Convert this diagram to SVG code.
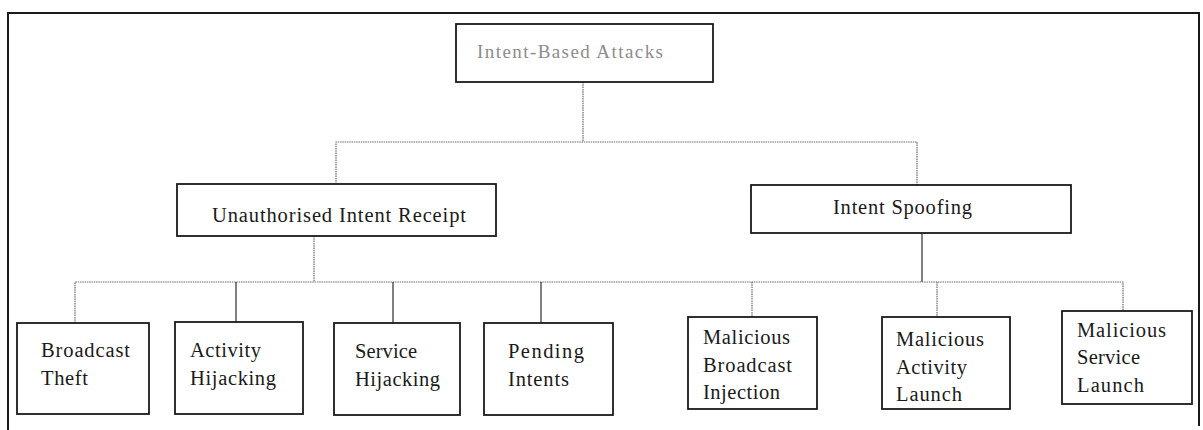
<svg xmlns="http://www.w3.org/2000/svg" width="1203" height="430" viewBox="0 0 1203 430">
  <style>
    .frame { fill: none; stroke: #1a1a1a; stroke-width: 2; }
    .box { fill: #ffffff; stroke: #1a1a1a; stroke-width: 1.8; }
    .link { fill: none; stroke: #6a6a6a; stroke-width: 1.2; stroke-dasharray: 1.5 0.8; }
    .link-solid { fill: none; stroke: #2a2a2a; stroke-width: 1.2; }
    .lbl { font-family: "Liberation Serif", "Times New Roman", serif; font-size: 20.5px; fill: #1a1a1a; }
    .root-lbl { font-family: "Liberation Serif", "Times New Roman", serif; font-size: 19px; fill: #8c8c8c; }
  </style>

  <rect width="1203" height="430" fill="#ffffff"/>

  <!-- outer frame: open at the bottom -->
  <path class="frame" d="M8,430 V13 H1199 V426"/>

  <!-- connectors -->
  <g id="connectors">
    <path class="link" d="M583,82 V142"/>
    <path class="link" d="M336,184 V142 H917 V185"/>
    <path class="link" d="M314,236 V282"/>
    <path class="link-solid" d="M922,233 V282"/>
    <path class="link" d="M75,323 V282 H1123 V311"/>
    <path class="link-solid" d="M236,282 V322"/>
    <path class="link-solid" d="M393,282 V323"/>
    <path class="link-solid" d="M541,282 V323"/>
    <path class="link" d="M752,282 V317"/>
    <path class="link" d="M937,282 V317"/>
  </g>

  <!-- root -->
  <g id="intent-based-attacks">
    <rect class="box" x="456" y="24" width="257" height="58"/>
    <text class="root-lbl" x="477" y="58" textLength="186" lengthAdjust="spacing">Intent-Based Attacks</text>
  </g>

  <!-- second level -->
  <g id="unauthorised-intent-receipt">
    <rect class="box" x="177" y="184" width="319" height="52"/>
    <text class="lbl" x="212" y="222" textLength="254" lengthAdjust="spacing">Unauthorised Intent Receipt</text>
  </g>
  <g id="intent-spoofing">
    <rect class="box" x="751" y="185" width="320" height="48"/>
    <text class="lbl" x="833" y="214" textLength="139" lengthAdjust="spacing">Intent Spoofing</text>
  </g>

  <!-- leaves under Unauthorised Intent Receipt -->
  <g id="broadcast-theft">
    <rect class="box" x="17" y="323" width="132" height="91"/>
    <text class="lbl" x="41" y="357" textLength="89" lengthAdjust="spacing">Broadcast</text>
    <text class="lbl" x="41" y="385" textLength="47" lengthAdjust="spacing">Theft</text>
  </g>
  <g id="activity-hijacking">
    <rect class="box" x="175" y="322" width="128" height="92"/>
    <text class="lbl" x="190" y="357" textLength="71" lengthAdjust="spacing">Activity</text>
    <text class="lbl" x="190" y="385" textLength="86" lengthAdjust="spacing">Hijacking</text>
  </g>
  <g id="service-hijacking">
    <rect class="box" x="334" y="323" width="126" height="92"/>
    <text class="lbl" x="355" y="358" textLength="62" lengthAdjust="spacing">Service</text>
    <text class="lbl" x="355" y="386" textLength="85" lengthAdjust="spacing">Hijacking</text>
  </g>
  <g id="pending-intents">
    <rect class="box" x="484" y="323" width="129" height="92"/>
    <text class="lbl" x="508" y="358" textLength="76" lengthAdjust="spacing">Pending</text>
    <text class="lbl" x="508" y="386" textLength="61" lengthAdjust="spacing">Intents</text>
  </g>

  <!-- leaves under Intent Spoofing -->
  <g id="malicious-broadcast-injection">
    <rect class="box" x="688" y="317" width="129" height="92"/>
    <text class="lbl" x="703" y="344" textLength="87" lengthAdjust="spacing">Malicious</text>
    <text class="lbl" x="703" y="372" textLength="89" lengthAdjust="spacing">Broadcast</text>
    <text class="lbl" x="703" y="399" textLength="77" lengthAdjust="spacing">Injection</text>
  </g>
  <g id="malicious-activity-launch">
    <rect class="box" x="882" y="317" width="128" height="92"/>
    <text class="lbl" x="896" y="346" textLength="88" lengthAdjust="spacing">Malicious</text>
    <text class="lbl" x="896" y="374" textLength="71" lengthAdjust="spacing">Activity</text>
    <text class="lbl" x="896" y="401" textLength="66" lengthAdjust="spacing">Launch</text>
  </g>
  <g id="malicious-service-launch">
    <rect class="box" x="1062" y="311" width="130" height="93"/>
    <text class="lbl" x="1077" y="337" textLength="89" lengthAdjust="spacing">Malicious</text>
    <text class="lbl" x="1077" y="364" textLength="63" lengthAdjust="spacing">Service</text>
    <text class="lbl" x="1077" y="392" textLength="67" lengthAdjust="spacing">Launch</text>
  </g>
</svg>
